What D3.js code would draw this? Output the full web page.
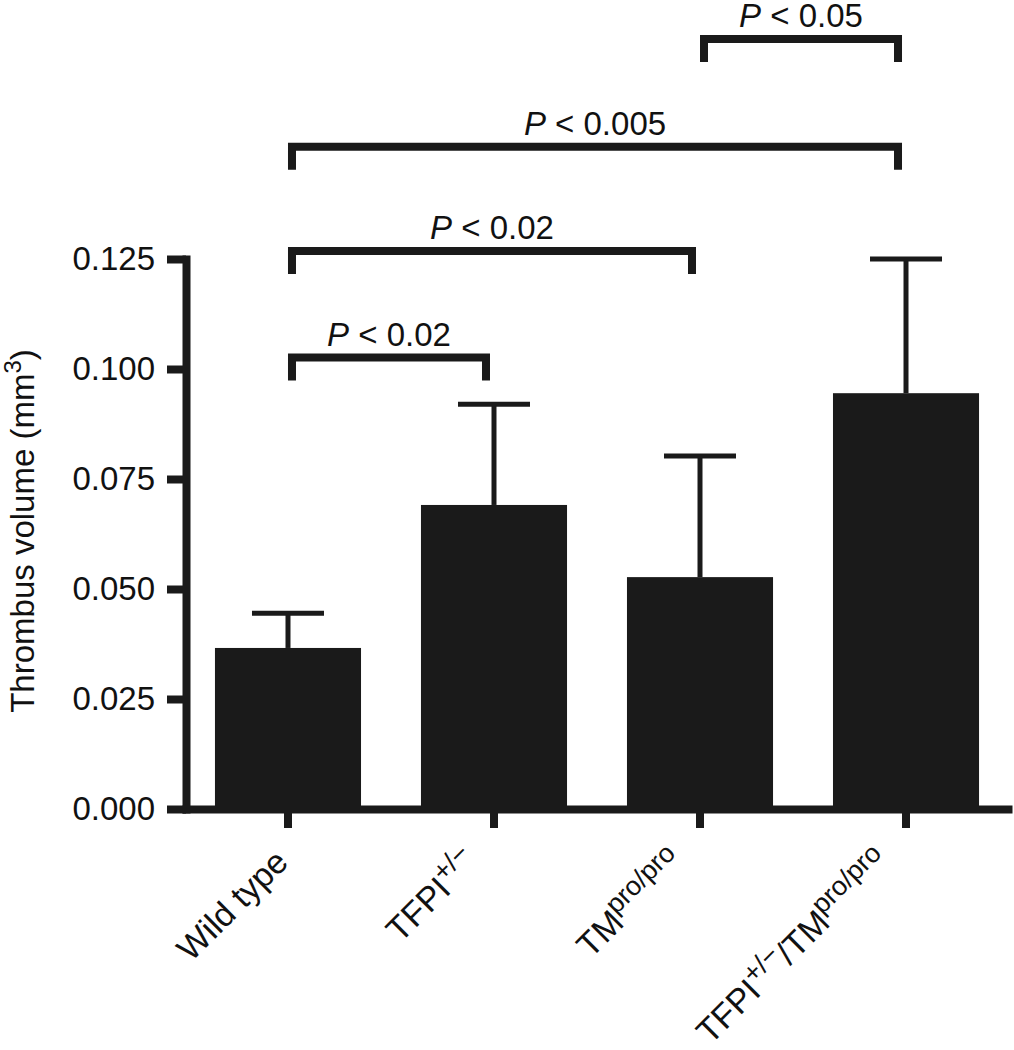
<!DOCTYPE html>
<html>
<head>
<meta charset="utf-8">
<script src="https://cdn.jsdelivr.net/npm/d3@7"></script>
<style>
  body { margin: 0; background: #fff; }
  svg text { font-family: "Liberation Sans", Arial, Helvetica, sans-serif; fill: #111; }
</style>
</head>
<body>
<div class="chart"></div>
<script>
// group names (main part + superscript parts)
const groups = ['wt', 'tfpi', 'tm', 'both'];
const groupLabels = [
    [['Wild type', false]],
    [['TFPI', false], ['+/\u2212', true]],
    [['TM', false], ['pro/pro', true]],
    [['TFPI', false], ['+/\u2212', true], ['/TM', false], ['pro/pro', true]]
];
const means = [0.0366, 0.0691, 0.0527, 0.0945];
const sems = [0.0079, 0.0229, 0.0275, 0.0305];
const yTicks = [0, 0.025, 0.05, 0.075, 0.1, 0.125];

// significance brackets: from group, to group, height (data units), label
const brFrom = ['wt', 'wt', 'wt', 'tm'];
const brTo = ['tfpi', 'tm', 'both', 'both'];
const brLevel = [0.1026, 0.1268, 0.1505, 0.1750];
const brLabel = ['0.02', '0.02', '0.005', '0.05'];

const width = 1014, height = 1050;
const axisX = 186, axisY = 809;
const ink = '#1a1a1a';

const svg = d3.select('.chart').append('svg')
    .attr('width', width)
    .attr('height', height);

const x = d3.scaleBand()
    .domain(groups)
    .range([182, 1012])
    .paddingInner(0.291)
    .paddingOuter(0.16);

const y = d3.scaleLinear()
    .domain([0, 0.125])
    .range([axisY, 259]);

const cx = (g) => x(g) + x.bandwidth() / 2;

// bars
svg.selectAll('rect.bar')
    .data(groups)
    .enter().append('rect')
    .attr('class', 'bar')
    .attr('x', d => x(d))
    .attr('width', x.bandwidth())
    .attr('y', (d, i) => y(means[i]))
    .attr('height', (d, i) => axisY - y(means[i]))
    .attr('fill', ink);

// error bars (upper only)
const err = svg.append('g').attr('stroke', ink).attr('fill', 'none');
groups.forEach((g, i) => {
    const top = y(means[i] + sems[i]);
    err.append('line')
        .attr('x1', cx(g)).attr('x2', cx(g))
        .attr('y1', y(means[i])).attr('y2', top)
        .attr('stroke-width', 5);
    err.append('line')
        .attr('x1', cx(g) - 36).attr('x2', cx(g) + 36)
        .attr('y1', top).attr('y2', top)
        .attr('stroke-width', 5);
});

// y axis
const yAxis = d3.axisLeft(y)
    .tickValues(yTicks)
    .tickSize(19)
    .tickSizeOuter(0)
    .tickPadding(12)
    .tickFormat(d3.format('.3f'));

const gy = svg.append('g')
    .attr('transform', 'translate(' + axisX + ',0)')
    .call(yAxis);
gy.select('.domain').attr('stroke', ink).attr('stroke-width', 8).attr('stroke-linecap', 'square');
gy.selectAll('.tick line').attr('stroke', ink).attr('stroke-width', 8);
gy.selectAll('.tick text').attr('font-size', 33).attr('fill', '#111')
    .style('font-family', '"Liberation Sans", Arial, sans-serif');

// x axis
const xAxis = d3.axisBottom(x)
    .tickSize(19)
    .tickSizeOuter(0)
    .tickFormat('');

const gx = svg.append('g')
    .attr('transform', 'translate(0,' + axisY + ')')
    .call(xAxis);
gx.select('.domain').attr('stroke', ink).attr('stroke-width', 8);
gx.selectAll('.tick line').attr('stroke', ink).attr('stroke-width', 8);

// rotated category labels
groups.forEach((g, i) => {
    const parts = groupLabels[i];
    const endsSup = parts[parts.length - 1][1];
    const t = svg.append('text')
        .attr('transform', 'translate(' + (cx(g) + (endsSup ? -14 : 2)) + ',864) rotate(-45)')
        .attr('text-anchor', 'end')
        .attr('font-size', 34);
    let raised = false;
    parts.forEach(part => {
        const s = t.append('tspan').text(part[0]);
        if (part[1] && !raised) { s.attr('dy', -13).attr('font-size', 27); raised = true; }
        else if (part[1]) { s.attr('font-size', 27); }
        else if (raised) { s.attr('dy', 13); raised = false; }
    });
});

// y axis title
const yt = svg.append('text')
    .attr('transform', 'translate(34,' + (y(0.0625) - 3) + ') rotate(-90)')
    .attr('text-anchor', 'middle')
    .attr('font-size', 33);
yt.append('tspan').text('Thrombus volume (mm');
yt.append('tspan').text('3').attr('font-size', 24).attr('dy', -13);
yt.append('tspan').text(')').attr('dy', 13);

// significance brackets
const br = svg.append('g');
brFrom.forEach((f, i) => {
    const x1 = cx(f) + 4, x2 = cx(brTo[i]) - 8;
    const yb = y(brLevel[i]);
    br.append('path')
        .attr('d', 'M' + x1 + ',' + (yb + 23) + 'V' + yb + 'H' + x2 + 'V' + (yb + 23))
        .attr('fill', 'none')
        .attr('stroke', ink)
        .attr('stroke-width', 8);
    const t = br.append('text')
        .attr('x', (x1 + x2) / 2)
        .attr('y', yb - 12)
        .attr('text-anchor', 'middle')
        .attr('font-size', 33);
    t.append('tspan').text('P').attr('font-style', 'italic');
    t.append('tspan').text(' < ' + brLabel[i]);
});
</script>
</body>
</html>
